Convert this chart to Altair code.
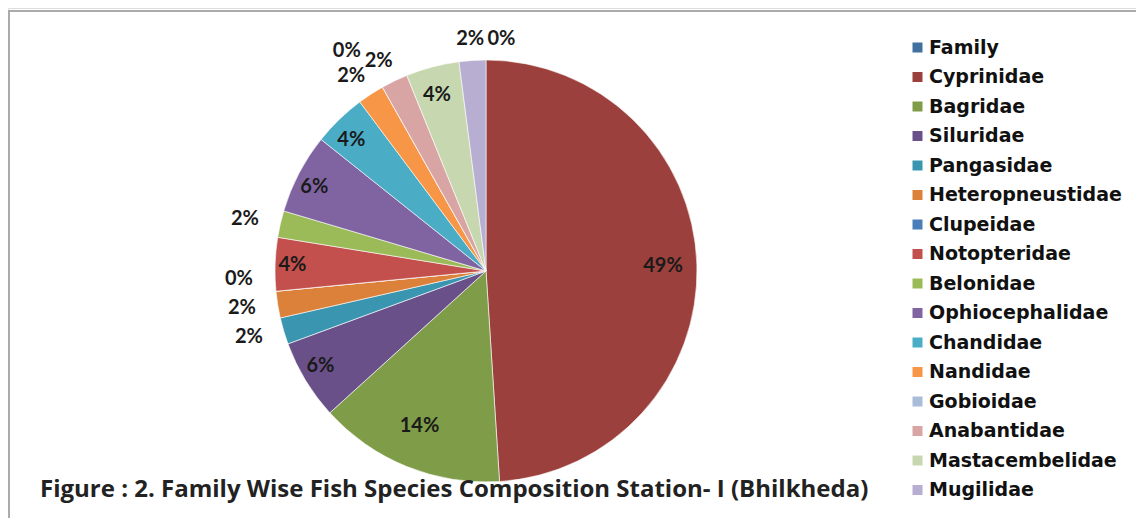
import altair as alt
import pandas as pd

families = ["Family", "Cyprinidae", "Bagridae", "Siluridae", "Pangasidae",
            "Heteropneustidae", "Clupeidae", "Notopteridae", "Belonidae",
            "Ophiocephalidae", "Chandidae", "Nandidae", "Gobioidae",
            "Anabantidae", "Mastacembelidae", "Mugilidae"]
species_counts = [0, 24, 7, 3, 1, 1, 0, 2, 1, 3, 2, 1, 0, 1, 2, 1]
colors = ["#41709F", "#9C403D", "#7F9C48", "#6A5089", "#3A96B0", "#DB8139",
          "#4A7EBB", "#C3504D", "#9BBB59", "#8064A2", "#4BACC6", "#F79646",
          "#A9BCD8", "#D9A5A4", "#C7D8B0", "#B7AED2"]
title_text = "Figure : 2. Family Wise Fish Species Composition Station- I (Bhilkheda)"

df = pd.DataFrame({"family": families, "count": species_counts,
                   "idx": list(range(len(families)))})
total = sum(species_counts)
df["pct"] = df["count"] / total

CX, CY, R = 478, 263, 211

base = alt.Chart(df)

arcs = base.mark_arc(x=CX, y=CY, outerRadius=R, stroke="white",
                     strokeWidth=0.6).encode(
    theta=alt.Theta("count:Q", stack=True),
    order=alt.Order("idx:Q"),
    color=alt.Color("family:N", sort=families,
                    scale=alt.Scale(domain=families, range=colors),
                    legend=alt.Legend(
                        title=None, orient="none", legendX=900, legendY=30,
                        symbolType="square", symbolSize=100,
                        symbolStrokeWidth=0, labelFont="DejaVu Sans",
                        labelFontSize=19, labelFontWeight="bold",
                        labelColor="#111111", rowPadding=9.5,
                        labelOffset=2, labelLimit=400)),
)

labels = base.transform_window(
    cum="sum(count)", nextpct="lead(pct)", sort=[alt.SortField("idx")],
    frame=[None, 0]
).transform_calculate(
    a0=f"360 * (datum.cum - datum.count / 2) / {total}",
    nsmall="isValid(datum.nextpct) && datum.nextpct < 0.04",
    ang="datum.count == 0 ? (datum.nsmall ? datum.a0 - 1.4 : datum.a0 + 3.6) : datum.a0",
    r="datum.count == 0 ? (datum.nsmall ? 264 : 240) : "
      "(datum.pct < 0.04 ? 240 : (datum.pct >= 0.1 ? 172 : 188))",
    lx=f"{CX} + datum.r * 1.03 * sin(datum.ang * PI / 180)",
    ly=f"{CY} - datum.r * 0.97 * cos(datum.ang * PI / 180)",
).mark_text(font="Lato", fontSize=20, fontWeight="bold", color="#1a1a1a",
            align="center", baseline="middle").encode(
    x=alt.X("lx:Q", scale=None, axis=None),
    y=alt.Y("ly:Q", scale=None, axis=None),
    text=alt.Text("pct:Q", format=".0%"),
)

one = alt.Data(values=[{"k": 1}])
border_top = alt.Chart(one).mark_rule(color="#ABABAB", strokeWidth=2).encode(
    x=alt.value(0), x2=alt.value(1128), y=alt.value(3))
border_left = alt.Chart(one).mark_rule(color="#ABABAB", strokeWidth=2).encode(
    x=alt.value(1), y=alt.value(2), y2=alt.value(510))

title = alt.Chart(one).mark_text(
    text=title_text, align="left", baseline="alphabetic", font="Open Sans",
    fontSize=24, fontWeight="bold", color="#222222").encode(
    x=alt.value(32), y=alt.value(489))

chart = alt.layer(border_top, border_left, arcs, labels, title).properties(
    width=1128, height=510, padding=0, autosize=alt.AutoSizeParams(type="none")
).configure_view(stroke=None).configure(background="white")

chart.save("out.html", embed_options={"renderer": "svg", "actions": False})
